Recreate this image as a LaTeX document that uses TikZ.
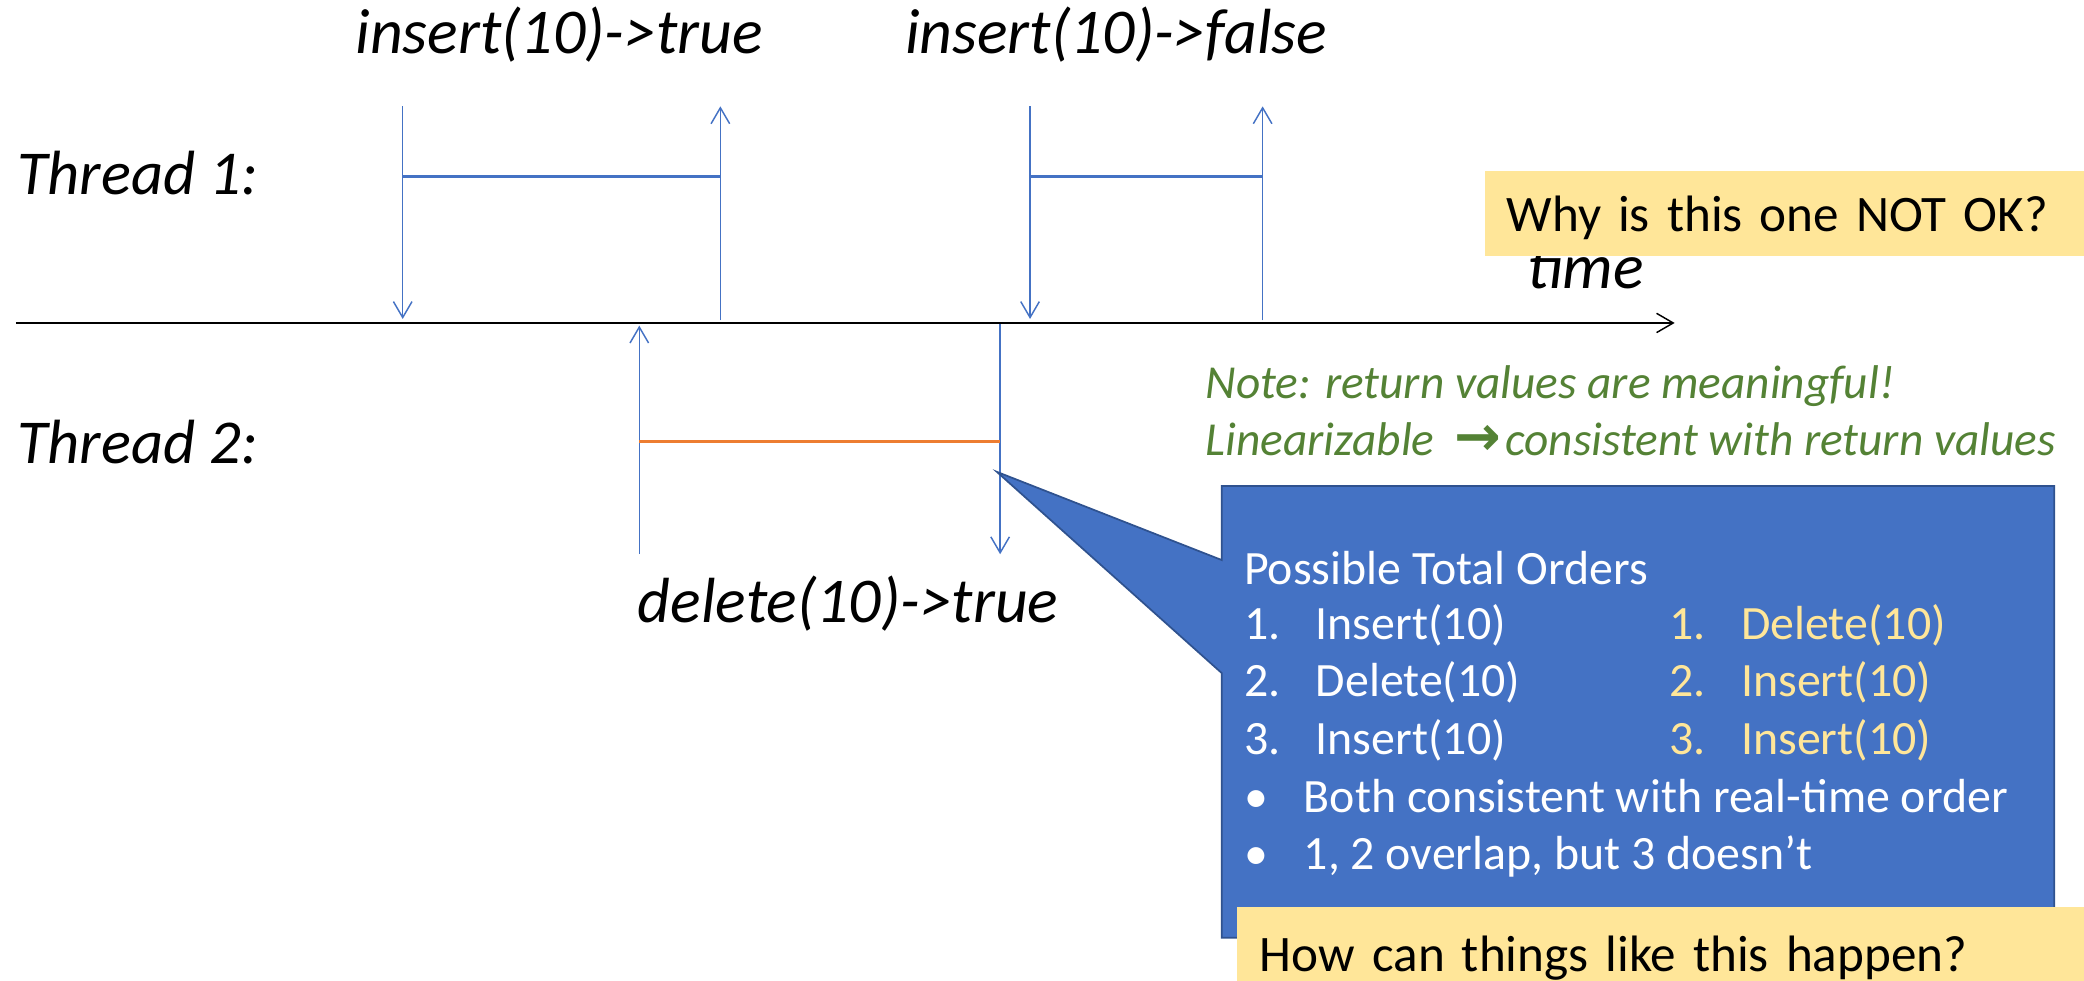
\documentclass[tikz,border=0pt]{standalone}
\usepackage{fontspec}
\setmainfont{Carlito}
\newfontfamily\arrowfont{DejaVu Sans}
\usetikzlibrary{arrows.meta}
\definecolor{opblue}{HTML}{4472C4}
\definecolor{opblueedge}{HTML}{2F528F}
\definecolor{oporange}{HTML}{ED7D31}
\definecolor{noteyellow}{HTML}{FFE699}
\definecolor{notegreen}{HTML}{548235}
\begin{document}
\begin{tikzpicture}[x=1pt,y=-1pt,
  every node/.style={inner sep=0pt, outer sep=0pt},
  thrlabel/.style={anchor=base west, font=\fontsize{47}{56}\selectfont\itshape},
  oplabel/.style={anchor=base west, font=\fontsize{48}{57}\selectfont\itshape},
  evt/.style={draw=opblue, line width=1.1pt, -{Straight Barb[length=12pt,width=14pt,line width=1.1pt]}},
  opbar/.style={draw=opblue, line width=2.2pt},
  axisline/.style={draw=black, line width=1.4pt, -{Straight Barb[length=12.5pt,width=14.5pt,line width=1.1pt]}},
  notetxt/.style={anchor=base west, text=notegreen, font=\fontsize{35.6}{42}\selectfont\itshape},
  boxtxt/.style={anchor=base west, text=white, font=\fontsize{36}{43}\selectfont},
  boxalt/.style={anchor=base west, text=noteyellow, font=\fontsize{36}{43}\selectfont},
  question/.style={fill=noteyellow, anchor=north west, align=left,
                   font=\fontsize{38.5}{46}\selectfont},
]
\useasboundingbox (0,0) rectangle (1568,738);

% ---- time axis ----
\coordinate (axisL) at (12,243);
\coordinate (axisR) at (1260,243);
\draw[axisline] (axisL) -- (axisR);
\node[oplabel] (timelbl) at (1149,217) {time};

% ---- thread labels ----
\node[thrlabel] (thr1) at (13,146) {Thread 1:};
\node[thrlabel] (thr2) at (13,349) {Thread 2:};

% ---- thread 1, first call ----
\coordinate (a1s) at (303,80);   \coordinate (a1e) at (303,240);
\coordinate (a2s) at (542,241);  \coordinate (a2e) at (542,80);
\draw[evt] (a1s) -- (a1e);
\draw[evt] (a2s) -- (a2e);
\coordinate (abarL) at (303,133); \coordinate (abarR) at (542,133);
\draw[opbar] (abarL) -- (abarR);
\node[oplabel] (insA) at (267.5,40) {insert(10)->true};

% ---- thread 1, second call ----
\coordinate (b1s) at (775,80);   \coordinate (b1e) at (775,240);
\coordinate (b2s) at (950,241);  \coordinate (b2e) at (950,80);
\draw[evt] (b1s) -- (b1e);
\draw[evt] (b2s) -- (b2e);
\coordinate (bbarL) at (775,133); \coordinate (bbarR) at (950,133);
\draw[opbar] (bbarL) -- (bbarR);
\node[oplabel] (insB) at (681,40) {insert(10)->false};

% ---- thread 2 ----
\coordinate (c1s) at (481,417);   \coordinate (c1e) at (481,245);
\coordinate (c2s) at (752.5,244); \coordinate (c2e) at (752.5,417);
\draw[evt] (c1s) -- (c1e);
\draw[evt] (c2s) -- (c2e);
\coordinate (cbarL) at (481,332); \coordinate (cbarR) at (752.5,332);
\draw[draw=oporange, line width=2.2pt] (cbarL) -- (cbarR);
\node[oplabel] (delC) at (480,468) {delete(10)->true};

% ---- notes ----
\node[notetxt] (note1) at (907,299.7) {Note: return values are meaningful!};
\node[notetxt] (note2) at (907,343) {Linearizable\hspace{15pt}{\arrowfont\bfseries\fontsize{42}{44}\selectfont →}\hspace{3pt}consistent with return values};

% ---- question about this history ----
\node[question, minimum width=480pt, minimum height=63.4pt, text height=38pt, text depth=10.8pt,
      inner xsep=16pt, text width=448pt] (why) at (1117.5,129) {Why is this one NOT OK?};

% ---- callout with the total orders ----
\coordinate (tip) at (750,355);
\coordinate (jtop) at (919.3,421.4);
\coordinate (jbot) at (919.3,506.5);
\path[fill=opblue, draw=opblueedge, line width=1.3pt, line join=miter]
  (tip) -- (jtop) -- (919.3,365.7) -- (1545.6,365.7) -- (1545.6,705.5) -- (919.3,705.5) -- (jbot) -- cycle;

\node[boxtxt] (hdr) at (936,440) {Possible Total Orders};
\node[boxtxt] (l1n) at (936,481)   {1.};
\node[boxtxt] (l1t) at (990,481)   {Insert(10)};
\node[boxtxt] (l2n) at (936,524)   {2.};
\node[boxtxt] (l2t) at (990,524)   {Delete(10)};
\node[boxtxt] (l3n) at (936,567.5) {3.};
\node[boxtxt] (l3t) at (990,567.5) {Insert(10)};
\node[boxalt] (r1n) at (1256,481)   {1.};
\node[boxalt] (r1t) at (1310,481)   {Delete(10)};
\node[boxalt] (r2n) at (1256,524)   {2.};
\node[boxalt] (r2t) at (1310,524)   {Insert(10)};
\node[boxalt] (r3n) at (1256,567.5) {3.};
\node[boxalt] (r3t) at (1310,567.5) {Insert(10)};
\node[boxtxt] (bul1) at (936,611.5) {•};
\node[boxtxt] (bt1)  at (981,611.5) {Both consistent with real-time order};
\node[boxtxt] (bul2) at (936,654.5) {•};
\node[boxtxt] (bt2)  at (981,654.5) {1, 2 overlap, but 3 doesn’t};

% ---- closing question ----
\node[question, minimum width=660pt, minimum height=62.3pt, text height=42pt, text depth=7.7pt,
      inner xsep=17pt, text width=626pt] (how) at (931,682.7) {How can things like this happen?};
\end{tikzpicture}
\end{document}
